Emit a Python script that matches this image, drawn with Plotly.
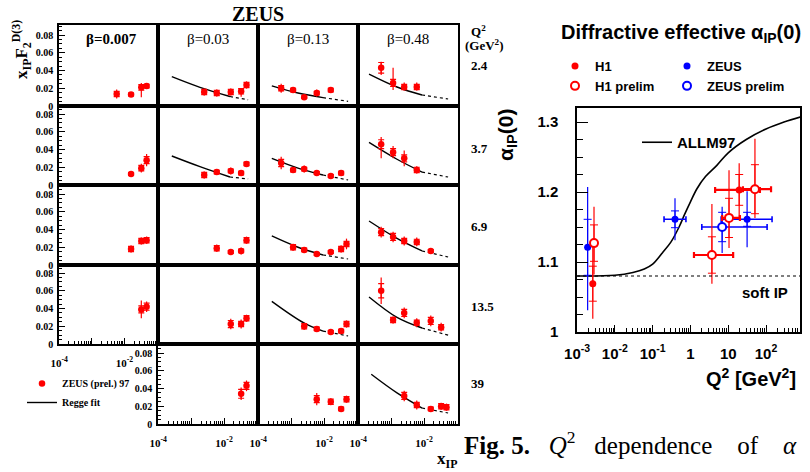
import plotly.graph_objects as go

W, H = 810, 472
SERIF = "Liberation Serif"
SANS = "Liberation Sans"
RED = "#ff0000"
BLUE = "#0000ff"

# ---------------- left: ZEUS x_IP F2^D(3) ----------------
BETA_LABELS = ["β=0.007", "β=0.03", "β=0.13", "β=0.48"]
Q2_LABELS = ["2.4", "3.7", "6.9", "13.5", "39"]

# Q2 = 2.4
XIP_R1 = [[0.0058, 0.016, 0.033, 0.048],
          [0.0025, 0.006, 0.016, 0.033, 0.048],
          [0.0005, 0.00115, 0.0025, 0.006, 0.016],
          [0.0005, 0.00115, 0.0025, 0.006]]
F2_R1 = [[0.0135, 0.0130, 0.0210, 0.0225],
         [0.0158, 0.0147, 0.0158, 0.0165, 0.0237],
         [0.0200, 0.0180, 0.0100, 0.0146, 0.0180],
         [0.0430, 0.0260, 0.0214, 0.0214]]
EUP_R1 = [[0.005, 0.002, 0.005, 0.003], [0.004, 0.004, 0.004, 0.003, 0.004],
          [0.005, 0.003, 0.002, 0.004, 0.003], [0.007, 0.017, 0.005, 0.005]]
EDN_R1 = [[0.005, 0.002, 0.011, 0.003], [0.004, 0.004, 0.004, 0.006, 0.004],
          [0.005, 0.003, 0.002, 0.004, 0.003], [0.008, 0.008, 0.004, 0.004]]
STAT_R1 = [[0.003, 0.0015, 0.003, 0.002], [0.003, 0.003, 0.003, 0.003, 0.003],
           [0.003, 0.002, 0.0015, 0.002, 0.002], [0.006, 0.004, 0.003, 0.003]]
FITX_R1 = [[], [0.00026, 0.00186, 0.0151, 0.0537], [0.00026, 0.00162, 0.0093, 0.0537],
           [0.000214, 0.00151, 0.0087, 0.0537]]
FITY_R1 = [[], [0.0330, 0.0210, 0.0107, 0.0070], [0.0227, 0.0146, 0.0094, 0.0053],
           [0.0360, 0.0214, 0.0124, 0.0079]]

# Q2 = 3.7
XIP_R2 = [[0.016, 0.033, 0.048],
          [0.0025, 0.006, 0.016, 0.033, 0.048],
          [0.0005, 0.00115, 0.0025, 0.006, 0.016, 0.033],
          [0.0005, 0.00115, 0.0025, 0.006]]
F2_R2 = [[0.0124, 0.0190, 0.0280],
         [0.0113, 0.0146, 0.0158, 0.0135, 0.0237],
         [0.0248, 0.0169, 0.0180, 0.0135, 0.0101, 0.0135],
         [0.0460, 0.0370, 0.0300, 0.0170]]
EUP_R2 = [[0.002, 0.005, 0.007], [0.004, 0.003, 0.004, 0.003, 0.003],
          [0.007, 0.003, 0.004, 0.002, 0.002, 0.003], [0.008, 0.007, 0.009, 0.004]]
EDN_R2 = [[0.002, 0.005, 0.007], [0.004, 0.003, 0.004, 0.003, 0.003],
          [0.007, 0.003, 0.004, 0.002, 0.002, 0.003], [0.016, 0.007, 0.009, 0.004]]
STAT_R2 = [[0.0015, 0.003, 0.004], [0.003, 0.002, 0.002, 0.002, 0.002],
           [0.004, 0.002, 0.002, 0.0015, 0.0015, 0.002], [0.005, 0.004, 0.004, 0.003]]
FITX_R2 = [[], [0.00026, 0.00186, 0.0151, 0.0537], [0.00026, 0.00162, 0.0093, 0.0537],
           [0.000214, 0.00151, 0.0087, 0.0537]]
FITY_R2 = [[], [0.0327, 0.0207, 0.0090, 0.0068], [0.0300, 0.0191, 0.0113, 0.0056],
           [0.0480, 0.0290, 0.0146, 0.0090]]

# Q2 = 6.9
XIP_R3 = [[0.016, 0.033, 0.048],
          [0.006, 0.016, 0.033, 0.048],
          [0.00115, 0.0025, 0.006, 0.016, 0.033, 0.048],
          [0.0005, 0.00115, 0.0025, 0.006, 0.016]]
F2_R3 = [[0.0180, 0.0270, 0.0280],
         [0.0190, 0.0146, 0.0158, 0.0280],
         [0.0200, 0.0170, 0.0124, 0.0146, 0.0180, 0.0237],
         [0.0370, 0.0316, 0.0270, 0.0260, 0.0158]]
EUP_R3 = [[0.004, 0.004, 0.004], [0.004, 0.002, 0.004, 0.004],
          [0.004, 0.003, 0.002, 0.002, 0.004, 0.006], [0.006, 0.006, 0.005, 0.005, 0.002]]
EDN_R3 = [[0.004, 0.004, 0.004], [0.004, 0.002, 0.004, 0.004],
          [0.004, 0.003, 0.002, 0.002, 0.004, 0.006], [0.006, 0.006, 0.005, 0.005, 0.002]]
STAT_R3 = [[0.003, 0.003, 0.003], [0.003, 0.0015, 0.002, 0.003],
           [0.003, 0.002, 0.0015, 0.0015, 0.003, 0.003], [0.004, 0.004, 0.003, 0.003, 0.0015]]
FITX_R3 = [[0.00011, 0.093], [0.00023, 0.054], [0.00026, 0.00162, 0.0093, 0.0537],
           [0.000214, 0.00151, 0.0087, 0.0537]]
FITY_R3 = [[0.0003, 0.0003], [0.0003, 0.0003], [0.0327, 0.0200, 0.0113, 0.0068],
           [0.0496, 0.0300, 0.0158, 0.0090]]

# Q2 = 13.5
XIP_R4 = [[0.033, 0.048],
          [0.016, 0.033, 0.048],
          [0.0025, 0.006, 0.016, 0.033, 0.048],
          [0.0005, 0.00115, 0.0025, 0.006, 0.016, 0.033]]
F2_R4 = [[0.0390, 0.0420],
         [0.0225, 0.0225, 0.0290],
         [0.0200, 0.0170, 0.0135, 0.0146, 0.0225],
         [0.0600, 0.0270, 0.0350, 0.0240, 0.0260, 0.0190]]
EUP_R4 = [[0.010, 0.006], [0.006, 0.005, 0.004], [0.004, 0.003, 0.002, 0.003, 0.004],
          [0.015, 0.004, 0.006, 0.005, 0.006, 0.005]]
EDN_R4 = [[0.010, 0.006], [0.006, 0.005, 0.004], [0.004, 0.003, 0.002, 0.003, 0.004],
          [0.015, 0.004, 0.006, 0.005, 0.006, 0.005]]
STAT_R4 = [[0.004, 0.004], [0.004, 0.003, 0.003], [0.003, 0.002, 0.0015, 0.002, 0.003],
           [0.008, 0.003, 0.004, 0.003, 0.004, 0.003]]
FITX_R4 = [[], [], [0.00026, 0.00245, 0.0093, 0.0537], [0.000214, 0.00151, 0.0087, 0.0537]]
FITY_R4 = [[], [], [0.0480, 0.0237, 0.0146, 0.0090], [0.0530, 0.0300, 0.0180, 0.0100]]

# Q2 = 39 (no beta=0.007 panel)
XIP_R5 = [[],
          [0.033, 0.048],
          [0.006, 0.016, 0.033, 0.048],
          [0.0025, 0.006, 0.016, 0.033, 0.048]]
F2_R5 = [[], [0.0340, 0.0430], [0.0280, 0.0250, 0.0170, 0.0280],
         [0.0316, 0.0214, 0.0170, 0.0200, 0.0190]]
EUP_R5 = [[], [0.007, 0.006], [0.007, 0.004, 0.003, 0.004], [0.006, 0.005, 0.003, 0.004, 0.004]]
EDN_R5 = [[], [0.007, 0.006], [0.007, 0.004, 0.003, 0.004], [0.006, 0.005, 0.003, 0.004, 0.004]]
STAT_R5 = [[], [0.005, 0.004], [0.004, 0.003, 0.002, 0.003], [0.004, 0.003, 0.002, 0.003, 0.003]]
FITX_R5 = [[], [], [], [0.00025, 0.00151, 0.0087, 0.0537]]
FITY_R5 = [[], [], [], [0.0560, 0.0350, 0.0180, 0.0124]]

ROWS = [
    (XIP_R1, F2_R1, EUP_R1, EDN_R1, STAT_R1, FITX_R1, FITY_R1),
    (XIP_R2, F2_R2, EUP_R2, EDN_R2, STAT_R2, FITX_R2, FITY_R2),
    (XIP_R3, F2_R3, EUP_R3, EDN_R3, STAT_R3, FITX_R3, FITY_R3),
    (XIP_R4, F2_R4, EUP_R4, EDN_R4, STAT_R4, FITX_R4, FITY_R4),
    (XIP_R5, F2_R5, EUP_R5, EDN_R5, STAT_R5, FITX_R5, FITY_R5),
]

# ---------------- right: effective alpha_IP(0) vs Q2 ----------------
H1_Q2 = [0.0026, 19.5]
H1_ALPHA = [1.069, 1.203]
H1_Q2_LO = [0.0, 15.0]
H1_Q2_HI = [0.0, 49.5]
H1_TOT_UP = [0.060, 0.038]
H1_TOT_DN = [0.050, 0.040]
H1_STAT = [0.025, 0.022]

H1P_Q2 = [0.0028, 3.7, 10.5, 51.0]
H1P_ALPHA = [1.127, 1.110, 1.163, 1.204]
H1P_Q2_LO = [0.0, 2.46, 3.6, 26.5]
H1P_Q2_HI = [0.0, 9.8, 9.9, 85.0]
H1P_TOT_UP = [0.052, 0.073, 0.068, 0.072]
H1P_TOT_DN = [0.045, 0.041, 0.043, 0.041]
H1P_STAT = [0.026, 0.026, 0.028, 0.035]

ZEUS_Q2 = [0.0019, 0.39, 31.6]
ZEUS_ALPHA = [1.121, 1.161, 1.161]
ZEUS_Q2_LO = [0.0, 0.19, 25.1]
ZEUS_Q2_HI = [0.0, 0.37, 113.0]
ZEUS_TOT_UP = [0.086, 0.030, 0.040]
ZEUS_TOT_DN = [0.090, 0.030, 0.040]
ZEUS_STAT = [0.040, 0.012, 0.010]

ZEUSP_Q2 = [6.9]
ZEUSP_ALPHA = [1.150]
ZEUSP_Q2_LO = [4.9]
ZEUSP_Q2_HI = [100.0]
ZEUSP_TOT_UP = [0.029]
ZEUSP_TOT_DN = [0.037]
ZEUSP_STAT = [0.021]

ALLM97_Q2 = [0.001, 0.01, 0.03, 0.06, 0.1, 0.18, 0.3, 0.5, 0.7, 1.0, 1.5, 2.5, 5, 10, 30, 100, 300, 800]
ALLM97_ALPHA = [1.080, 1.081, 1.085, 1.090, 1.097, 1.113, 1.128, 1.150, 1.168, 1.186, 1.205,
                1.222, 1.238, 1.256, 1.275, 1.290, 1.300, 1.307]
SOFT_IP = 1.08

# ---------------- geometry ----------------
COL_L = [59, 158, 258, 358]
COL_R = [158, 258, 358, 458]
ROW_T = [25, 106, 185, 265, 344]
ROW_B = [106, 185, 265, 344, 424]
PX_PER_UNIT = 887.5

fig = go.Figure()
layout = dict(width=W, height=H, margin=dict(l=0, r=0, t=0, b=0), template="none",
              paper_bgcolor="white", plot_bgcolor="white", showlegend=True,
              annotations=[], shapes=[], font=dict(family=SERIF, color="black"))


def xp(px):
    return px / W


def yp(py):
    return 1 - py / H


def ann(text, px, py, size, family=SERIF, bold=True, xanchor="center", yanchor="middle", angle=0):
    layout["annotations"].append(dict(
        text=text, x=xp(px), y=yp(py), xref="paper", yref="paper", showarrow=False,
        xanchor=xanchor, yanchor=yanchor, textangle=angle,
        font=dict(family=family, size=size, color="black", weight="bold" if bold else "normal")))


MINOR_X_LEFT = [m * 10.0 ** d for d in (-4, -3, -2, -1) for m in range(2, 10) if m * 10.0 ** d < 0.107]
YLAB_PANELS = {(0, 0), (1, 0), (2, 0), (3, 0), (4, 1)}
XLAB_PANELS = {(3, 0), (4, 1), (4, 2), (4, 3)}

k = 0
data_leg = False
fit_leg = False
for r in range(5):
    xs_row, f_row, eu_row, ed_row, st_row, fx_row, fy_row = ROWS[r]
    for c in range(4):
        if r == 4 and c == 0:
            continue
        k += 1
        xr = "x" if k == 1 else f"x{k}"
        yr = "y" if k == 1 else f"y{k}"
        xa = dict(domain=[xp(COL_L[c]), xp(COL_R[c])], type="log", range=[-4.004, -0.97],
                  showline=True, mirror=True, linecolor="black", linewidth=1.5,
                  showgrid=False, zeroline=False, anchor=yr, automargin=False, fixedrange=True)
        if (r, c) in XLAB_PANELS:
            xa.update(ticks="inside", ticklen=6, tickwidth=1, tickcolor="black", tickmode="array",
                      tickvals=[1e-4, 1e-3, 1e-2, 1e-1],
                      ticktext=["10<sup>-4</sup>", "", "10<sup>-2</sup>", ""],
                      tickfont=dict(family=SERIF, size=11, color="black", weight="bold"),
                      ticklabelstandoff=8,
                      minor=dict(ticks="inside", ticklen=3, tickwidth=1, tickcolor="black",
                                 tickmode="array", tickvals=MINOR_X_LEFT))
        else:
            xa.update(ticks="", showticklabels=False)
        ya = dict(domain=[yp(ROW_B[r]), yp(ROW_T[r])], range=[0, (ROW_B[r] - ROW_T[r]) / PX_PER_UNIT],
                  showline=True, mirror=True, linecolor="black", linewidth=1.5,
                  showgrid=False, zeroline=False, anchor=xr, automargin=False, fixedrange=True)
        if (r, c) in YLAB_PANELS:
            ya.update(ticks="inside", ticklen=6, tickwidth=1, tickcolor="black", tickmode="array",
                      tickvals=[0, 0.02, 0.04, 0.06, 0.08],
                      ticktext=["0", "0.02", "0.04", "0.06", "0.08"],
                      tickfont=dict(family=SERIF, size=10, color="black", weight="bold"),
                      ticklabelstandoff=2,
                      minor=dict(ticks="inside", ticklen=3, tickwidth=1, tickcolor="black",
                                 dtick=0.005, tick0=0))
        else:
            ya.update(ticks="", showticklabels=False)
        layout["xaxis" if k == 1 else f"xaxis{k}"] = xa
        layout["yaxis" if k == 1 else f"yaxis{k}"] = ya

        fx, fy = fx_row[c], fy_row[c]
        if len(fx) == 2:
            fig.add_trace(go.Scatter(x=fx, y=fy, mode="lines", line=dict(color="black", width=2),
                                     xaxis=xr, yaxis=yr, showlegend=False, hoverinfo="skip"))
        elif len(fx) == 4:
            fig.add_trace(go.Scatter(x=fx[:3], y=fy[:3], mode="lines",
                                     line=dict(color="black", width=1.4, shape="spline"),
                                     xaxis=xr, yaxis=yr, name="Regge fit", legend="legend",
                                     legendgroup="regge", showlegend=not fit_leg, hoverinfo="skip"))
            fit_leg = True
            fig.add_trace(go.Scatter(x=fx[2:], y=fy[2:], mode="lines",
                                     line=dict(color="black", width=1.2, dash="3px,3px"),
                                     xaxis=xr, yaxis=yr, showlegend=False, hoverinfo="skip"))

        xs = xs_row[c]
        if xs:
            fig.add_trace(go.Scatter(x=xs, y=f_row[c], mode="markers",
                                     marker=dict(size=1, color="rgba(0,0,0,0)"),
                                     error_y=dict(type="data", array=st_row[c], color=RED,
                                                  thickness=1.2, width=3),
                                     xaxis=xr, yaxis=yr, showlegend=False, hoverinfo="skip"))
            fig.add_trace(go.Scatter(x=xs, y=f_row[c], mode="markers", name="ZEUS (prel.) 97",
                                     marker=dict(size=6.5, color=RED),
                                     error_y=dict(type="data", symmetric=False, array=eu_row[c],
                                                  arrayminus=ed_row[c], color=RED, thickness=1.2, width=0),
                                     xaxis=xr, yaxis=yr, legend="legend", legendgroup="zeus97",
                                     showlegend=not data_leg))
            data_leg = True

# ---------------- right panel axes ----------------
layout["xaxis20"] = dict(domain=[xp(577), xp(800)], type="log", range=[-3.003, 2.9],
                         showline=True, mirror=True, linecolor="black", linewidth=1.5,
                         showgrid=False, zeroline=False, anchor="y20", automargin=False,
                         ticks="inside", ticklen=7, tickwidth=1, tickcolor="black", tickmode="array",
                         tickvals=[1e-3, 1e-2, 1e-1, 1, 10, 100],
                         ticktext=["10<sup>-3</sup>", "10<sup>-2</sup>", "10<sup>-1</sup>", "1", "10",
                                   "10<sup>2</sup>"],
                         tickfont=dict(family=SANS, size=15, color="black", weight="bold"),
                         ticklabelstandoff=7,
                         minor=dict(ticks="inside", ticklen=4, tickwidth=1, tickcolor="black",
                                    tickmode="array",
                                    tickvals=[m * 10.0 ** d for d in range(-3, 3) for m in range(2, 10)
                                              if m * 10.0 ** d < 790]))
layout["yaxis20"] = dict(domain=[yp(332), yp(108)], range=[1.0, 1.32],
                         showline=True, mirror=True, linecolor="black", linewidth=1.5,
                         showgrid=False, zeroline=False, anchor="x20", automargin=False,
                         ticks="inside", ticklen=11, tickwidth=1, tickcolor="black", tickmode="array",
                         tickvals=[1.0, 1.1, 1.2, 1.3], ticktext=["1", "1.1", "1.2", "1.3"],
                         tickfont=dict(family=SANS, size=15, color="black", weight="bold"),
                         ticklabelstandoff=14,
                         minor=dict(ticks="inside", ticklen=6, tickwidth=1, tickcolor="black",
                                    dtick=0.025, tick0=1.0))

fig.add_trace(go.Scatter(x=ALLM97_Q2, y=ALLM97_ALPHA, mode="lines", name="ALLM97",
                         line=dict(color="black", width=1.6, shape="spline"),
                         xaxis="x20", yaxis="y20", legend="legend4", hoverinfo="skip"))
layout["shapes"].append(dict(type="line", xref="x20 domain", x0=0, x1=1, yref="y20",
                             y0=SOFT_IP, y1=SOFT_IP, line=dict(color="black", width=1.2, dash="dot")))


def add_series(q2, a, qlo, qhi, tup, tdn, st, color, filled, name, legend, group, hthick):
    fig.add_trace(go.Scatter(x=q2, y=a, mode="markers", marker=dict(size=1, color="rgba(0,0,0,0)"),
                             error_y=dict(type="data", array=st, color=color, thickness=1, width=4),
                             xaxis="x20", yaxis="y20", showlegend=False, hoverinfo="skip"))
    fig.add_trace(go.Scatter(
        x=q2, y=a, mode="markers", name=name,
        marker=dict(symbol="circle", size=7 if filled else 8, color=color if filled else "white",
                    line=dict(color=color, width=0 if filled else 2)),
        error_y=dict(type="data", symmetric=False, array=tup, arrayminus=tdn, color=color,
                     thickness=1.2, width=0),
        error_x=dict(type="data", symmetric=False, array=qhi, arrayminus=qlo, color=color,
                     thickness=hthick, width=3),
        xaxis="x20", yaxis="y20", legend=legend, legendgroup=group, showlegend=True))


add_series(ZEUS_Q2, ZEUS_ALPHA, ZEUS_Q2_LO, ZEUS_Q2_HI, ZEUS_TOT_UP, ZEUS_TOT_DN, ZEUS_STAT,
           BLUE, True, "ZEUS", "legend3", "zeus", 1.6)
add_series(ZEUSP_Q2, ZEUSP_ALPHA, ZEUSP_Q2_LO, ZEUSP_Q2_HI, ZEUSP_TOT_UP, ZEUSP_TOT_DN, ZEUSP_STAT,
           BLUE, False, "ZEUS prelim", "legend3", "zeusp", 1.6)
add_series(H1_Q2, H1_ALPHA, H1_Q2_LO, H1_Q2_HI, H1_TOT_UP, H1_TOT_DN, H1_STAT,
           RED, True, "H1", "legend2", "h1", 2.2)
add_series(H1P_Q2, H1P_ALPHA, H1P_Q2_LO, H1P_Q2_HI, H1P_TOT_UP, H1P_TOT_DN, H1P_STAT,
           RED, False, "H1 prelim", "legend2", "h1p", 2.2)

# ---------------- legends ----------------
leg_common = dict(xanchor="left", yanchor="top", bgcolor="rgba(0,0,0,0)", borderwidth=0,
                  orientation="v", traceorder="normal")
layout["legend"] = dict(x=xp(22), y=yp(369), font=dict(family=SERIF, size=10, color="black", weight="bold"),
                        tracegroupgap=0, **leg_common)
layout["legend2"] = dict(x=xp(555), y=yp(51), font=dict(family=SANS, size=13, color="black", weight="bold"),
                         tracegroupgap=4, **leg_common)
layout["legend3"] = dict(x=xp(667), y=yp(51), font=dict(family=SANS, size=13, color="black", weight="bold"),
                         tracegroupgap=4, **leg_common)
layout["legend4"] = dict(x=xp(637), y=yp(126), font=dict(family=SANS, size=15, color="black", weight="bold"),
                         **leg_common)

# ---------------- texts ----------------
ann("ZEUS", 258, 14, 20)
for i, lab in enumerate(BETA_LABELS):
    ann(lab, [111, 208, 308, 408][i], 39, 15, bold=(i == 0))
ann("Q<sup>2</sup>", 469, 31, 13, xanchor="left")
ann("(GeV<sup>2</sup>)", 463, 45, 13, xanchor="left")
for i, lab in enumerate(Q2_LABELS):
    ann(lab, 469, [66, 148, 227, 306, 383][i], 13, xanchor="left")
ann("x<sub>IP</sub>F<sub>2</sub><sup>D(3)</sup>", 22, 50, 17, angle=-90)
ann("x<sub>IP</sub>", 447, 460, 17)

ann("Diffractive effective α<sub>IP</sub>(0)", 681, 33, 20, family=SANS)
ann("α<sub>IP</sub>(0)", 507, 135, 21, family=SANS, angle=-90)
ann("Q<sup>2</sup> [GeV<sup>2</sup>]", 798, 377, 20, family=SANS, xanchor="right")
ann("soft IP", 740, 292, 15, family=SANS, xanchor="left")

SP3 = "\u00a0\u00a0\u00a0"
SP4 = "\u00a0\u00a0\u00a0\u00a0"
ann("<b>Fig.\u00a05.</b>" + SP3 + "<i>Q</i><sup>2</sup>" + SP3 + "dependence" + SP4 + "of" + SP4 + "<i>α</i>",
    462, 443, 25, bold=False, xanchor="left")

fig.update_layout(**layout)
fig.write_html("out.html", include_plotlyjs=True, config={"displayModeBar": False})
